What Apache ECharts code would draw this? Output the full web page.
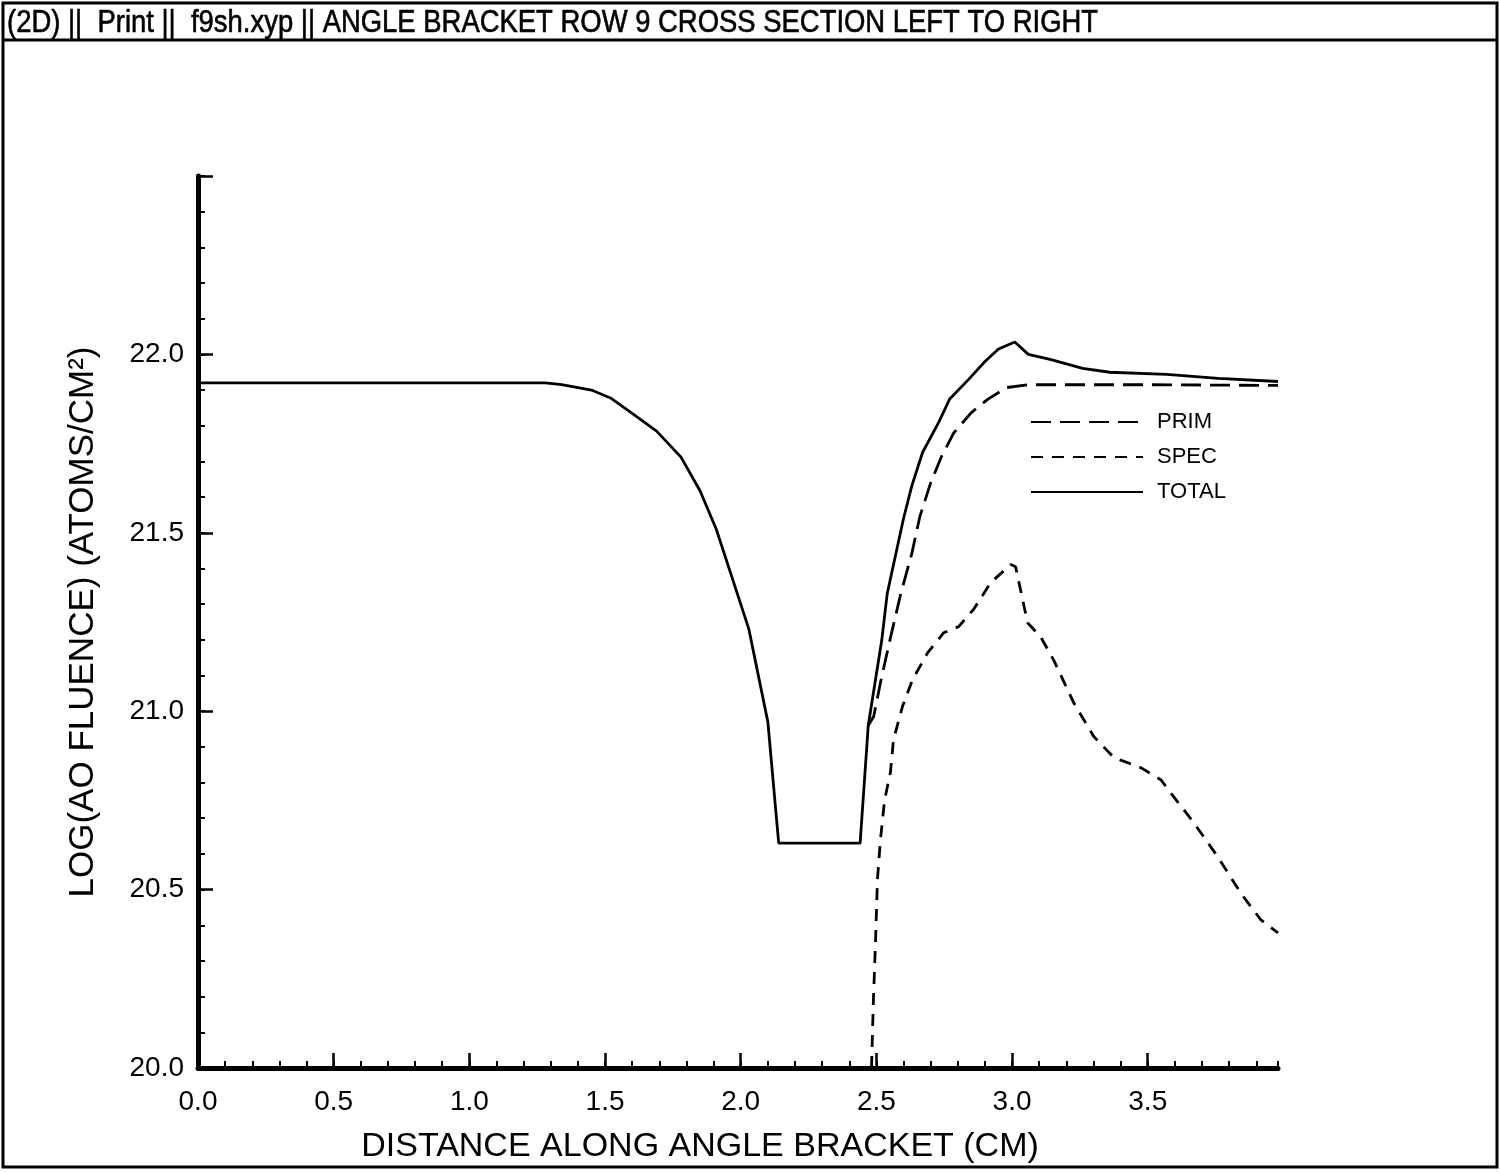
<!DOCTYPE html>
<html>
<head>
<meta charset="utf-8">
<script src="https://cdn.jsdelivr.net/npm/echarts@6/dist/echarts.min.js"></script>
<style>
  html, body { margin: 0; padding: 0; background: #fff; }
  #chart { width: 1500px; height: 1172px; }
</style>
</head>
<body>
<div id="chart"></div>
<script>
// values
const totalX = [0.00, 0.50, 1.00, 1.28, 1.34, 1.45, 1.52, 1.60, 1.69, 1.78, 1.85, 1.91, 1.97, 2.03, 2.10, 2.14, 2.44, 2.47, 2.52, 2.54, 2.56, 2.60, 2.63, 2.67, 2.73, 2.77, 2.84, 2.90, 2.95, 3.01, 3.06, 3.14, 3.26, 3.36, 3.57, 3.76, 3.98]
const totalY = [21.92, 21.92, 21.92, 21.92, 21.915, 21.90, 21.878, 21.835, 21.785, 21.712, 21.618, 21.51, 21.37, 21.23, 20.97, 20.63, 20.63, 20.96, 21.20, 21.33, 21.40, 21.54, 21.63, 21.725, 21.81, 21.875, 21.93, 21.98, 22.015, 22.035, 22.00, 21.986, 21.961, 21.95, 21.944, 21.933, 21.924]

const primX = [2.47, 2.49, 2.515, 2.55, 2.59, 2.63, 2.66, 2.70, 2.74, 2.785, 2.85, 2.91, 2.98, 3.06, 3.50, 3.98]
const primY = [20.96, 20.985, 21.08, 21.20, 21.33, 21.44, 21.545, 21.64, 21.714, 21.78, 21.837, 21.874, 21.907, 21.915, 21.915, 21.913]

const specX = [2.482, 2.489, 2.497, 2.504, 2.515, 2.53, 2.552, 2.563, 2.596, 2.633, 2.689, 2.748, 2.803, 2.858, 2.921, 2.995, 3.013, 3.057, 3.105, 3.153, 3.227, 3.301, 3.375, 3.474, 3.548, 3.596, 3.67, 3.758, 3.843, 3.917, 3.98]
const specY = [20.0, 20.19, 20.36, 20.53, 20.64, 20.75, 20.83, 20.92, 21.013, 21.088, 21.164, 21.22, 21.237, 21.285, 21.36, 21.411, 21.405, 21.248, 21.209, 21.144, 21.024, 20.929, 20.87, 20.842, 20.808, 20.76, 20.687, 20.592, 20.49, 20.415, 20.379]

const seriesNames = ['PRIM', 'SPEC', 'TOTAL']

const titleText = '(2D) ||  Print ||  f9sh.xyp || ANGLE BRACKET ROW 9 CROSS SECTION LEFT TO RIGHT'
const xName = 'DISTANCE ALONG ANGLE BRACKET (CM)'
const yName = 'LOG(AO FLUENCE) (ATOMS/CM\u00B2)'

const pairs = (xs, ys) => xs.map((x, i) => [x, ys[i]])

const font = '"Liberation Sans", Arial, Helvetica, sans-serif'

const chart = echarts.init(document.getElementById('chart'))

chart.setOption({
  animation: false,
  backgroundColor: '#fff',
  textStyle: { fontFamily: font, color: '#000' },
  graphic: [
    {
      type: 'rect',
      shape: { x: 3, y: 3, width: 1494, height: 1164 },
      style: { fill: 'none', stroke: '#000', lineWidth: 3 }
    },
    {
      type: 'line',
      shape: { x1: 3, y1: 40, x2: 1497, y2: 40 },
      style: { stroke: '#000', lineWidth: 3 }
    },
    {
      // condensed header text
      type: 'text',
      x: 7,
      y: 23,
      scaleX: 0.885,
      style: {
        text: titleText,
        font: '31px "Liberation Sans", sans-serif',
        fill: '#000',
        stroke: '#000',
        lineWidth: 0.6,
        textVerticalAlign: 'middle'
      }
    }
  ],
  legend: {
    data: seriesNames,
    orient: 'vertical',
    left: 1025,
    top: 406,
    itemWidth: 112,
    itemHeight: 22,
    itemGap: 13,
    itemStyle: { opacity: 0 },
    lineStyle: { opacity: 1 },
    textStyle: {
      fontSize: 22,
      color: '#000',
      padding: [0, 0, 0, 9]
    }
  },
  grid: {
    left: 198,
    right: 222,
    top: 176,
    bottom: 104
  },
  xAxis: [
    {
      type: 'value',
      min: 0,
      max: 3.98,
      interval: 0.5,
      position: 'bottom',
      name: xName,
      nameLocation: 'middle',
      nameGap: 62,
      nameTextStyle: { fontSize: 34, color: '#000', padding: [0, 76, 0, 0] },
      axisLine: { lineStyle: { color: '#000', width: 5 } },
      axisTick: { inside: true, length: 15, lineStyle: { color: '#000', width: 2.5 } },
      axisLabel: {
        fontSize: 28,
        color: '#000',
        margin: 20,
        showMaxLabel: false,
        formatter: v => v.toFixed(1)
      },
      splitLine: { show: false }
    },
    {
      type: 'value',
      min: 0,
      max: 3.98,
      interval: 0.1,
      position: 'bottom',
      axisLine: { show: false },
      axisTick: { inside: true, length: 7, lineStyle: { color: '#000', width: 2 } },
      axisLabel: { show: false },
      splitLine: { show: false }
    }
  ],
  yAxis: [
    {
      type: 'value',
      min: 20,
      max: 22.5,
      interval: 0.5,
      position: 'left',
      name: yName,
      nameLocation: 'middle',
      nameGap: 97,
      nameTextStyle: { fontSize: 35, color: '#000' },
      axisLine: { lineStyle: { color: '#000', width: 5 } },
      axisTick: { inside: true, length: 15, lineStyle: { color: '#000', width: 2.5 } },
      axisLabel: {
        fontSize: 28,
        color: '#000',
        margin: 14,
        formatter: v => (v > 22.2 ? '' : v.toFixed(1))
      },
      splitLine: { show: false }
    },
    {
      type: 'value',
      min: 20,
      max: 22.5,
      interval: 0.1,
      position: 'left',
      axisLine: { show: false },
      axisTick: { inside: true, length: 7, lineStyle: { color: '#000', width: 2 } },
      axisLabel: { show: false },
      splitLine: { show: false }
    }
  ],
  series: [
    {
      name: 'PRIM',
      type: 'line',
      symbol: 'none',
      data: pairs(primX, primY),
      lineStyle: { color: '#000', width: 2.8, type: [20, 9] },
      itemStyle: { color: '#000' },
      z: 2
    },
    {
      name: 'SPEC',
      type: 'line',
      symbol: 'none',
      data: pairs(specX, specY),
      lineStyle: { color: '#000', width: 2.8, type: [12, 9] },
      itemStyle: { color: '#000' },
      z: 2
    },
    {
      name: 'TOTAL',
      type: 'line',
      symbol: 'none',
      data: pairs(totalX, totalY),
      lineStyle: { color: '#000', width: 2.8 },
      itemStyle: { color: '#000' },
      z: 3
    }
  ]
})
</script>
</body>
</html>
